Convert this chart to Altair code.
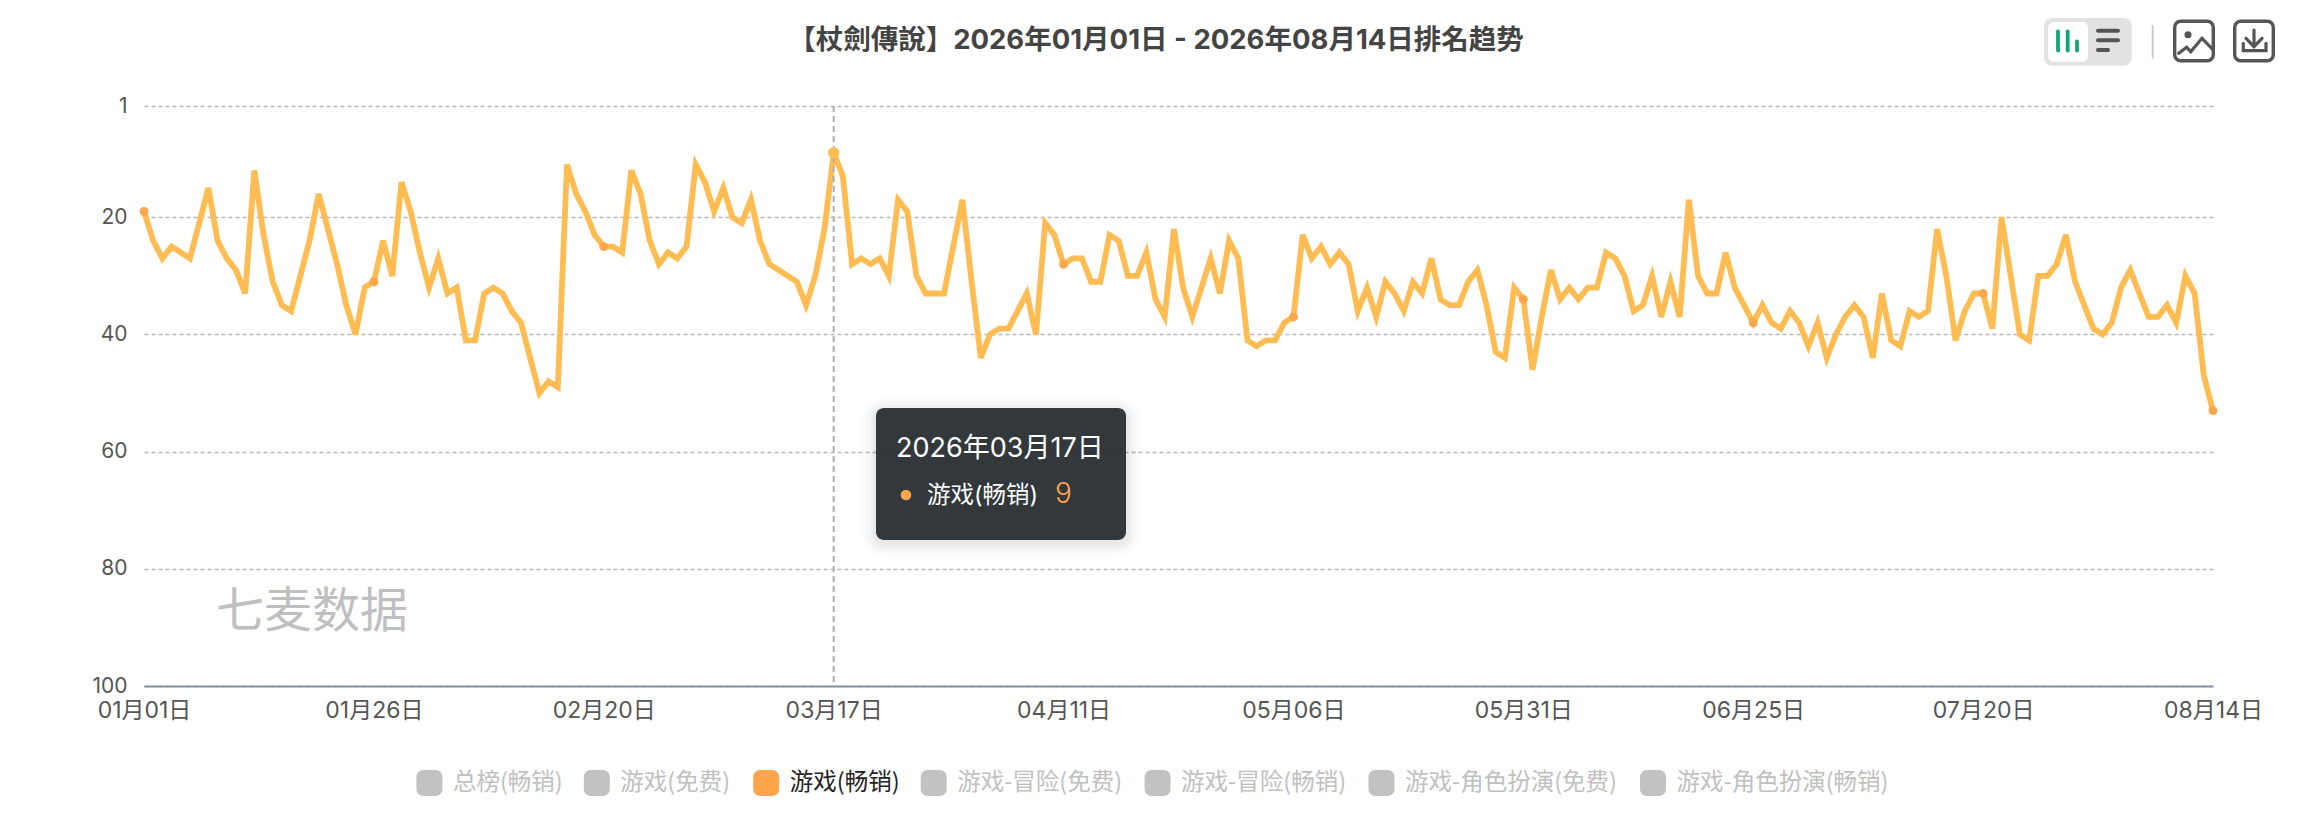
import altair as alt
import pandas as pd

ranks = [
    19, 24, 27, 25, 26, 27, 21, 15, 24, 27, 29, 33, 12, 23, 31, 35, 36, 30, 24, 16,
    22, 28, 35, 40, 32, 31, 24, 30, 14, 19, 26, 32, 27, 33, 32, 41, 41, 33, 32, 33,
    36, 38, 44, 50, 48, 49, 11, 16, 19, 23, 25, 25, 26, 12, 16, 24, 28, 26, 27, 25,
    11, 14, 19, 15, 20, 21, 17, 24, 28, 29, 30, 31, 35, 30, 22, 9, 13, 28, 27, 28,
    27, 30, 17, 19, 30, 33, 33, 33, 25, 17, 31, 44, 40, 39, 39, 36, 33, 40, 21, 23,
    28, 27, 27, 31, 31, 23, 24, 30, 30, 26, 34, 37, 22, 32, 37, 32, 27, 33, 24, 27,
    41, 42, 41, 41, 38, 37, 23, 27, 25, 28, 26, 28, 36, 32, 37, 31, 33, 36, 31, 33,
    27, 34, 35, 35, 31, 29, 35, 43, 44, 32, 34, 46, 37, 29, 34, 32, 34, 32, 32, 26,
    27, 30, 36, 35, 30, 37, 31, 37, 17, 30, 33, 33, 26, 32, 35, 38, 35, 38, 39, 36,
    38, 42, 38, 44, 40, 37, 35, 37, 44, 33, 41, 42, 36, 37, 36, 22, 30, 41, 36, 33,
    33, 39, 20, 30, 40, 41, 30, 30, 28, 23, 31, 35, 39, 40, 38, 32, 29, 33, 37, 37,
    35, 38, 30, 33, 47, 53,
]
dates = [d.strftime("%m月%d日") for d in pd.date_range("2026-01-01", "2026-08-14")]
tick_labels = ["01月01日", "01月26日", "02月20日", "03月17日", "04月11日",
               "05月06日", "05月31日", "06月25日", "07月20日", "08月14日"]
y_ticks = [1, 20, 40, 60, 80, 100]
hover_date = "03月17日"
hover_rank = 9
title_text = "【杖劍傳說】2026年01月01日 - 2026年08月14日排名趋势"
tooltip_title = "2026年03月17日"
series_name = "游戏(畅销)"
watermark = "七麦数据"
legend_names = ["总榜(畅销)", "游戏(免费)", "游戏(畅销)", "游戏-冒险(免费)",
                "游戏-冒险(畅销)", "游戏-角色扮演(免费)", "游戏-角色扮演(畅销)"]

FONT = "Noto Sans CJK SC"
MIXED = "Inter, 'Noto Sans CJK SC'"
LINE = "#FFBC52"
DOT = "#FFA64D"
OX, OY = 144.0, 106.0  # page position of the plot origin
W, H = 2069, 580

df = pd.DataFrame({"date": dates, "rank": ranks})
X = alt.X("date:O", scale=alt.Scale(type="point", domain=dates, padding=0),
          title=None,
          axis=alt.Axis(values=tick_labels, labelAngle=0, labelFontSize=23, labelColor="#555555",
                        labelFont=MIXED, labelPadding=13, labelOverlap=False, labelFlush=False,
                        ticks=False, domainColor="#8592A6", domainWidth=2, grid=False))
Y = alt.Y("rank:Q", scale=alt.Scale(domain=[1, 100], reverse=True, nice=False, zero=False),
          title=None,
          axis=alt.Axis(values=y_ticks, labelFontSize=21, labelColor="#555555", labelFont=MIXED,
                        labelPadding=17, ticks=False, domain=False, grid=True, gridColor="#B8B8B8",
                        gridDash=[4, 3], gridWidth=1.5))

line = alt.Chart(df).mark_line(color=LINE, strokeWidth=5.8, strokeJoin="miter").encode(x=X, y=Y)
dots = (alt.Chart(df[df["date"].isin(tick_labels)])
        .mark_circle(color=DOT, size=80, opacity=1)
        .encode(x=alt.X("date:O"), y=alt.Y("rank:Q")))
rule = (alt.Chart(pd.DataFrame({"date": [hover_date]}))
        .mark_rule(color="#A9AEB8", strokeWidth=2, strokeDash=[6, 4])
        .encode(x=alt.X("date:O")))
hover = (alt.Chart(pd.DataFrame({"date": [hover_date], "rank": [hover_rank]}))
         .mark_circle(color=LINE, size=130, opacity=1)
         .encode(x=alt.X("date:O"), y=alt.Y("rank:Q")))

one = pd.DataFrame({"k": [0]})


def box(x0, y0, x1, y1, fill=None, radius=0, stroke=None, sw=0, opacity=1.0):
    kw = {"cornerRadius": radius, "opacity": opacity}
    if fill:
        kw["fill"] = fill
    else:
        kw["fillOpacity"] = 0
    if stroke:
        kw["stroke"] = stroke
        kw["strokeWidth"] = sw
    return alt.Chart(one).mark_rect(**kw).encode(
        x=alt.value(x0 - OX), x2=alt.value(x1 - OX), y=alt.value(y0 - OY), y2=alt.value(y1 - OY))


def seg(x0, y0, x1, y1, color, sw):
    return alt.Chart(one).mark_rule(color=color, strokeWidth=sw, strokeCap="round").encode(
        x=alt.value(x0 - OX), x2=alt.value(x1 - OX), y=alt.value(y0 - OY), y2=alt.value(y1 - OY))


def label(s, x, y, size, color, align="left", weight="normal", font=FONT):
    return alt.Chart(one).mark_text(text=s, fontSize=size, color=color, align=align, baseline="middle",
                                    fontWeight=weight, font=font).encode(
        x=alt.value(x - OX), y=alt.value(y - OY))


def disc(x, y, d, color):
    return alt.Chart(one).mark_circle(color=color, size=d * d * 0.785, opacity=1).encode(
        x=alt.value(x - OX), y=alt.value(y - OY))


extras = [label(title_text, 1156, 41, 27.5, "#444444", align="center", weight="bold",
                font="Inter, 'Noto Sans CJK TC'"),
          label(watermark, 312, 613, 48, "#BFBFBF", align="center")]

# tooltip
for grow, op in [(14, 0.012), (10, 0.018), (6, 0.025), (3, 0.03)]:
    extras.append(box(876 - grow, 408 - grow + 3, 1126 + grow, 540 + grow + 3, fill="#000000",
                      radius=8 + grow, opacity=op))
extras += [
    box(876, 408, 1126, 540, fill="#2B3235", radius=8, opacity=0.97),
    label(tooltip_title, 896, 449, 27, "#FFFFFF", font=MIXED),
    disc(906, 495, 12, DOT),
    label(series_name, 927, 496, 23.5, "#FFFFFF", font=MIXED),
    label(str(hover_rank), 1055, 495, 28, DOT, weight=300, font=MIXED),
]

# legend
swatch_x = [416.4, 583.8, 753.2, 920.7, 1144.6, 1368.5, 1640]
for i, name in enumerate(legend_names):
    on = name == series_name and i == 2
    extras.append(box(swatch_x[i], 770, swatch_x[i] + 26, 796, fill=DOT if on else "#C2C2C2", radius=7))
    extras.append(label(name, swatch_x[i] + 36.5, 783, 23.5, "#222222" if on else "#C0C0C0"))

# toolbar
extras += [
    box(2044, 18, 2131.7, 65.7, fill="#E2E2E2", radius=8),
    box(2048, 22, 2088, 61.7, fill="#FFFFFF", radius=6),
]
for bx, top in [(2058, 29.3), (2067.7, 29.3), (2077, 39.3)]:
    extras.append(seg(bx, top + 2, bx, 50.5, "#12A67C", 3.8))
for y0, x1 in [(30.7, 2120), (40.3, 2120), (50, 2110)]:
    extras.append(seg(2098, y0, x1 - 2, y0, "#555555", 4))
extras.append(seg(2152.7, 26, 2152.7, 57.7, "#CCCCCC", 2))
extras += [
    box(2174.7, 21.3, 2213.3, 60.7, stroke="#555555", sw=3.4, radius=6),
    disc(2188, 34.7, 8, "#555555"),
    box(2234.7, 21.3, 2273.3, 60.7, stroke="#555555", sw=3.4, radius=6),
]
for pts in [[(2178.7, 53.3), (2186.7, 47.3), (2190.7, 51.7), (2202, 38.3), (2212.7, 49.3)],
            [(2254, 30), (2254, 45)],
            [(2246, 38.3), (2254, 46.7), (2262, 38.3)],
            [(2243.3, 43.3), (2243.3, 50.7), (2266, 50.7), (2266, 43.3)]]:
    for a, b in zip(pts, pts[1:]):
        extras.append(seg(a[0], a[1], b[0], b[1], "#555555", 3.2))

chart = alt.layer(line, dots, rule, hover, *extras).properties(
    width=W, height=H,
    padding={"left": 136, "top": 98, "right": 87, "bottom": 120},
    autosize=alt.AutoSizeParams(type="none"),
    background="#FFFFFF",
).configure_view(stroke=None)

chart.save("out.html", embed_options={"renderer": "svg", "actions": False})
